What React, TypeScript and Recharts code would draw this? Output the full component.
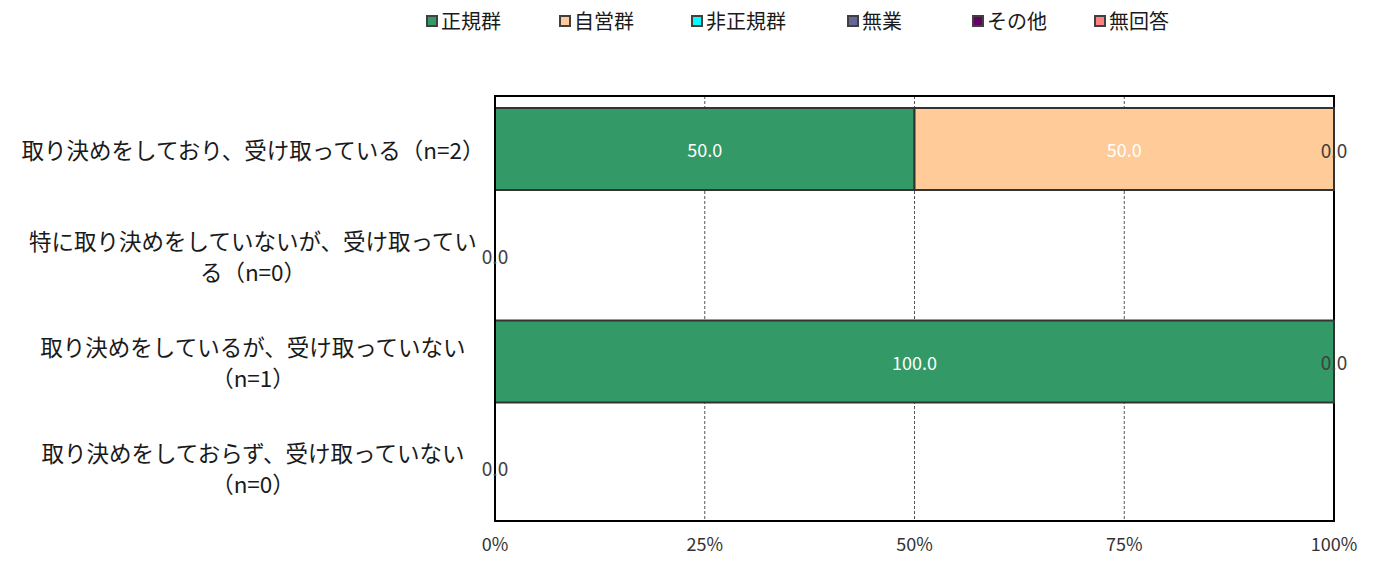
import React from "react";
import {
  BarChart,
  Bar,
  XAxis,
  YAxis,
  CartesianGrid,
  LabelList,
  ReferenceArea,
  ReferenceDot,
} from "recharts";

const categories = [
  "取り決めをしており、受け取っている（n=2）",
  "特に取り決めをしていないが、受け取ってい\nる（n=0）",
  "取り決めをしているが、受け取っていない\n（n=1）",
  "取り決めをしておらず、受け取っていない\n（n=0）",
];

const seriesNames = ["正規群", "自営群", "非正規群", "無業", "その他", "無回答"];
const seriesColors = ["#339966", "#FFCC99", "#00FFFF", "#666699", "#660066", "#FF8080"];

const seikiValues = [50.0, 0, 100.0, 0];
const jieiValues = [50.0, 0, 0, 0];
const hiseikiValues = [0, 0, 0, 0];
const mugyoValues = [0, 0, 0, 0];
const sonotaValues = [0, 0, 0, 0];
const mukaitoValues = [0, 0, 0, 0];

const xTicks = [0, 25, 50, 75, 100];

const seriesValues = [seikiValues, jieiValues, hiseikiValues, mugyoValues, sonotaValues, mukaitoValues];

const data = categories.map((name, i) => {
  const row: Record<string, any> = { name };
  seriesNames.forEach((s, k) => {
    row[s] = seriesValues[k][i];
  });
  return row;
});

// positions (in data units) of zero-valued segments, one per distinct spot per row
const zeroSpots: { name: string; pos: number }[] = [];
categories.forEach((name, i) => {
  let cum = 0;
  const seen = new Set<number>();
  seriesValues.forEach((vals) => {
    const v = vals[i];
    if (v === 0 && !seen.has(cum)) {
      seen.add(cum);
      zeroSpots.push({ name, pos: cum });
    }
    cum += v;
  });
});

const FONT = "'Noto Sans CJK JP', 'Noto Sans', sans-serif";
const legendItemWidths = [133, 132, 156, 125, 122, 110];

const YTick = (props: any) => {
  const { x, y, payload } = props;
  const lines = String(payload.value).split("\n");
  const lh = 31;
  return (
    <g>
      {lines.map((ln, i) => (
        <text
          key={i}
          x={x - 240}
          y={y + (i - (lines.length - 1) / 2) * lh}
          textAnchor="middle"
          dominantBaseline="central"
          fontSize={22.5}
          fill="#1a1a1a"
          fontFamily={FONT}
        >
          {ln}
        </text>
      ))}
    </g>
  );
};

const makeLabel = (props: any) => {
  const { x, y, width, height, value } = props;
  const v = Number(value);
  if (v === 0) return null;
  return (
    <text
      x={Number(x) + Number(width) / 2}
      y={Number(y) + Number(height) / 2}
      textAnchor="middle"
      dominantBaseline="central"
      fontSize={18}
      fill="#ffffff"
      fontFamily={FONT}
    >
      {v.toFixed(1)}
    </text>
  );
};

const ZeroLabel = (props: any) => {
  const vb = props.viewBox || {};
  const cx = Number(vb.x) + Number(vb.width || 0) / 2;
  const cy = Number(vb.y) + Number(vb.height || 0) / 2;
  return (
    <text
      x={cx}
      y={cy}
      textAnchor="middle"
      dominantBaseline="central"
      fontSize={19}
      fill="#404040"
      fontFamily={FONT}
    >
      {(0).toFixed(1)}
    </text>
  );
};

const LegendBox = () => (
  <div
    style={{
      position: "absolute",
      top: 6,
      left: 426,
      display: "flex",
      alignItems: "center",
      fontFamily: FONT,
      fontSize: 20,
      color: "#1a1a1a",
      whiteSpace: "nowrap",
    }}
  >
    {seriesNames.map((s, k) => (
      <div key={s} style={{ display: "flex", alignItems: "center", width: legendItemWidths[k] }}>
        <span
          style={{
            display: "inline-block",
            width: 8,
            height: 8,
            background: seriesColors[k],
            border: "2px solid #404040",
            marginRight: 3,
          }}
        />
        <span>{s}</span>
      </div>
    ))}
  </div>
);

export default function App() {
  return (
    <div style={{ position: "absolute", left: 0, top: 0, width: 1376, height: 562, background: "#fff" }}>
      <LegendBox />
      <BarChart
        width={1376}
        height={562}
        data={data}
        layout="vertical"
        margin={{ top: 96, right: 42, left: 0, bottom: 0 }}
        barSize={82}
      >
        <CartesianGrid horizontal={false} vertical stroke="#555" strokeDasharray="3 2" />
        <XAxis
          type="number"
          domain={[0, 100]}
          ticks={xTicks}
          tickFormatter={(v: number) => `${v}%`}
          axisLine={{ stroke: "#000", strokeWidth: 2 }}
          tickLine={false}
          tickSize={0}
          tickMargin={17}
          height={41}
          interval={0}
          tick={{ fontSize: 18, fill: "#333", fontFamily: FONT }}
        />
        <YAxis
          type="category"
          dataKey="name"
          width={495}
          axisLine={{ stroke: "#000", strokeWidth: 2 }}
          tickLine={false}
          tickSize={0}
          interval={0}
          tick={<YTick />}
        />
        {seriesNames.map((s, k) => (
          <Bar
            key={s}
            dataKey={s}
            stackId="a"
            fill={seriesColors[k]}
            stroke="#333"
            strokeWidth={2}
            isAnimationActive={false}
          >
            <LabelList dataKey={s} content={makeLabel} />
          </Bar>
        ))}
        <ReferenceArea x1={0} x2={100} fill="none" fillOpacity={0} stroke="#000" strokeWidth={2} ifOverflow="visible" />
        {zeroSpots.map((z, i) => (
          <ReferenceDot
            key={i}
            x={z.pos}
            y={z.name}
            r={1}
            fill="none"
            stroke="none"
            ifOverflow="visible"
            label={<ZeroLabel />}
          />
        ))}
      </BarChart>
    </div>
  );
}
